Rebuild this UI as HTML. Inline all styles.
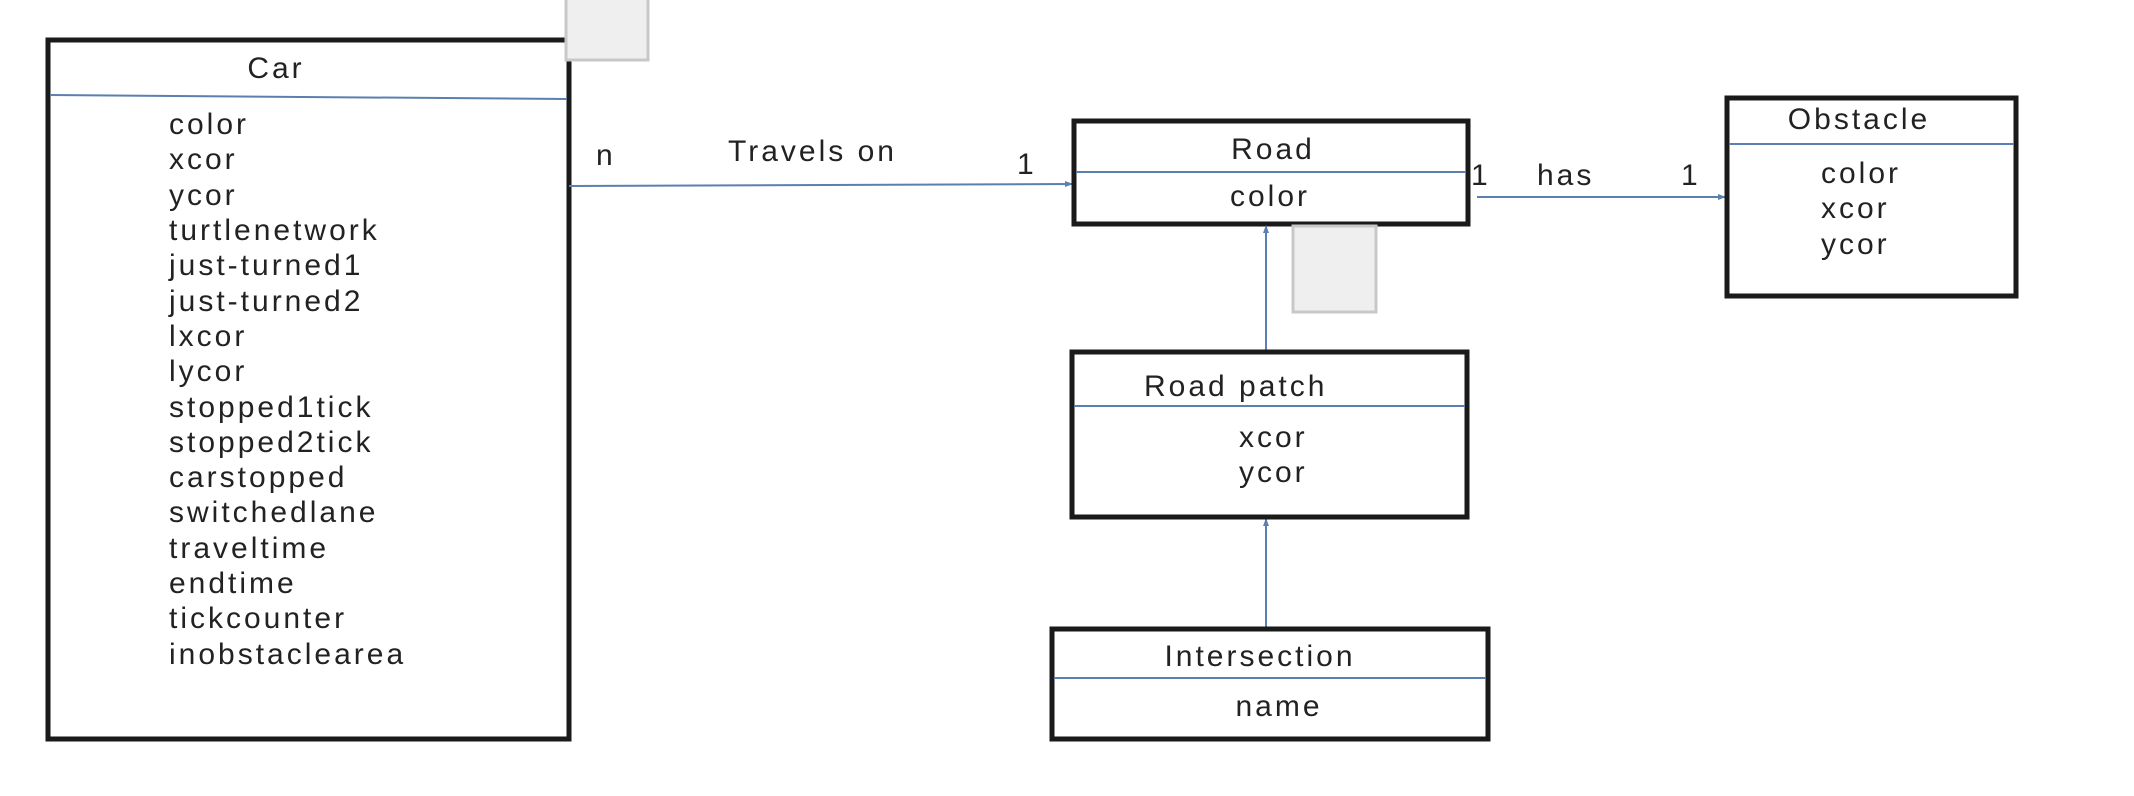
<!DOCTYPE html>
<html><head><style>
html,body{margin:0;padding:0;background:#fff;}
svg{display:block;}
text{font-family:"Liberation Sans",sans-serif;font-size:30px;letter-spacing:3px;fill:#222;}
</style></head><body>
<svg width="2134" height="796" viewBox="0 0 2134 796" xmlns="http://www.w3.org/2000/svg">
<defs>
<marker id="ah" markerWidth="8" markerHeight="8" refX="7" refY="4" orient="auto" markerUnits="userSpaceOnUse">
<path d="M0,1 L8,4 L0,7 z" fill="#5b7fb0"/>
</marker>
</defs>
<!-- Car -->
<rect x="48" y="40" width="521" height="699" fill="none" stroke="#1a1a1a" stroke-width="5"/>
<rect x="566" y="-2" width="82" height="62" fill="#efefef" stroke="#c8c8c8" stroke-width="3"/>
<line x1="50" y1="95" x2="567" y2="99" stroke="#5b7fb0" stroke-width="2"/>
<text x="276" y="78" text-anchor="middle">Car</text>
<g>
<text x="169" y="134">color</text>
<text x="169" y="169">xcor</text>
<text x="169" y="205">ycor</text>
<text x="169" y="240">turtlenetwork</text>
<text x="169" y="275">just-turned1</text>
<text x="169" y="311">just-turned2</text>
<text x="169" y="346">lxcor</text>
<text x="169" y="381">lycor</text>
<text x="169" y="417">stopped1tick</text>
<text x="169" y="452">stopped2tick</text>
<text x="169" y="487">carstopped</text>
<text x="169" y="522">switchedlane</text>
<text x="169" y="558">traveltime</text>
<text x="169" y="593">endtime</text>
<text x="169" y="628">tickcounter</text>
<text x="169" y="664">inobstaclearea</text>
</g>
<!-- Travels on -->
<line x1="569" y1="186" x2="1072" y2="184" stroke="#5b7fb0" stroke-width="2" marker-end="url(#ah)"/>
<text x="596" y="165">n</text>
<text x="728" y="161">Travels on</text>
<text x="1017" y="174">1</text>
<!-- Road -->
<rect x="1074" y="121" width="394" height="103" fill="none" stroke="#1a1a1a" stroke-width="5"/>
<line x1="1076" y1="172" x2="1466" y2="172" stroke="#5b7fb0" stroke-width="2"/>
<text x="1273" y="159" text-anchor="middle">Road</text>
<text x="1270" y="206" text-anchor="middle">color</text>
<!-- has -->
<line x1="1477" y1="197" x2="1725" y2="197" stroke="#5b7fb0" stroke-width="2" marker-end="url(#ah)"/>
<text x="1471" y="185">1</text>
<text x="1537" y="185">has</text>
<text x="1681" y="185">1</text>
<!-- Obstacle -->
<rect x="1727" y="98" width="289" height="198" fill="none" stroke="#1a1a1a" stroke-width="5"/>
<line x1="1729" y1="144" x2="2014" y2="144" stroke="#5b7fb0" stroke-width="2"/>
<text x="1859" y="129" text-anchor="middle">Obstacle</text>
<text x="1821" y="183">color</text>
<text x="1821" y="218">xcor</text>
<text x="1821" y="254">ycor</text>
<!-- gray box 2 -->
<rect x="1293" y="226" width="83" height="86" fill="#efefef" stroke="#c8c8c8" stroke-width="3"/>
<!-- arrows vertical -->
<line x1="1266" y1="350" x2="1266" y2="226" stroke="#5b7fb0" stroke-width="2" marker-end="url(#ah)"/>
<line x1="1266" y1="628" x2="1266" y2="519" stroke="#5b7fb0" stroke-width="2" marker-end="url(#ah)"/>
<!-- Road patch -->
<rect x="1072" y="352" width="395" height="165" fill="none" stroke="#1a1a1a" stroke-width="5"/>
<line x1="1074" y1="406" x2="1465" y2="406" stroke="#5b7fb0" stroke-width="2"/>
<text x="1144" y="396">Road patch</text>
<text x="1239" y="447">xcor</text>
<text x="1239" y="482">ycor</text>
<!-- Intersection -->
<rect x="1052" y="629" width="436" height="110" fill="none" stroke="#1a1a1a" stroke-width="5"/>
<line x1="1054" y1="678" x2="1486" y2="678" stroke="#5b7fb0" stroke-width="2"/>
<text x="1260" y="666" text-anchor="middle">Intersection</text>
<text x="1279" y="716" text-anchor="middle">name</text>
</svg>
</body></html>
